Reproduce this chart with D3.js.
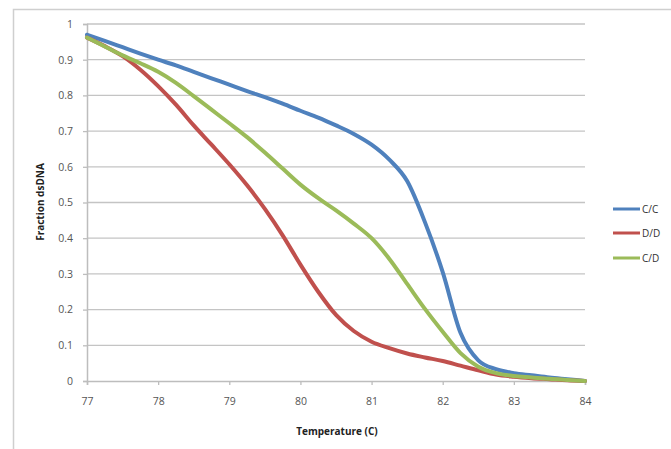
<!DOCTYPE html>
<html>
<head>
<meta charset="utf-8">
<script src="https://cdn.jsdelivr.net/npm/d3@7/dist/d3.min.js"></script>
<style>
  html, body { margin: 0; padding: 0; background: #fff; }
  svg { display: block; }
  text { font-family: "Open Sans", "DejaVu Sans", sans-serif; }
</style>
</head>
<body>
<script>
// ---- data ----
const temperatures = [77.00, 77.25, 77.50, 77.75, 78.00, 78.25, 78.50, 78.75, 79.00, 79.25,
                      79.50, 79.75, 80.00, 80.25, 80.50, 80.75, 81.00, 81.25, 81.50, 81.75,
                      82.00, 82.25, 82.50, 82.75, 83.00, 83.25, 83.50, 83.75, 84.00];
const seriesNames = ["C/C", "D/D", "C/D"];
const ccValues = [0.970, 0.953, 0.935, 0.917, 0.900, 0.884, 0.866, 0.848, 0.830, 0.812,
                  0.795, 0.777, 0.757, 0.738, 0.716, 0.692, 0.662, 0.620, 0.560, 0.445,
                  0.305, 0.135, 0.058, 0.033, 0.022, 0.016, 0.010, 0.005, 0.000];
const ddValues = [0.962, 0.938, 0.910, 0.872, 0.826, 0.774, 0.716, 0.662, 0.607, 0.548,
                  0.482, 0.408, 0.326, 0.250, 0.185, 0.140, 0.110, 0.092, 0.077, 0.066,
                  0.056, 0.043, 0.030, 0.018, 0.012, 0.008, 0.005, 0.002, 0.000];
const cdValues = [0.962, 0.937, 0.912, 0.890, 0.866, 0.835, 0.798, 0.760, 0.722, 0.683,
                  0.640, 0.595, 0.550, 0.512, 0.478, 0.441, 0.400, 0.342, 0.272, 0.202,
                  0.138, 0.078, 0.040, 0.022, 0.014, 0.010, 0.006, 0.003, 0.000];
const xTicks = [77, 78, 79, 80, 81, 82, 83, 84];
const yTicks = [0, 0.1, 0.2, 0.3, 0.4, 0.5, 0.6, 0.7, 0.8, 0.9, 1];
const xTitle = "Temperature (C)";
const yTitle = "Fraction dsDNA";

const colors = ["#4F81BD", "#C0504D", "#9BBB59"];
const seriesValues = [ccValues, ddValues, cdValues];

// ---- layout ----
const W = 671, H = 449;
const plot = { left: 87, right: 585, top: 24, bottom: 381 };

const svg = d3.select("body").append("svg").attr("width", W).attr("height", H);

// outer frame
svg.append("rect").attr("x", 13.5).attr("y", 9.5).attr("width", 800).attr("height", 600)
  .attr("fill", "none").attr("stroke", "#cfcfcf").attr("stroke-width", 1.5);

const x = d3.scaleLinear().domain([77, 84]).range([plot.left, plot.right]);
const y = d3.scaleLinear().domain([0, 1]).range([plot.bottom, plot.top]);

// gridlines
svg.append("g").selectAll("line").data(yTicks.filter(d => d > 0)).join("line")
  .attr("x1", plot.left).attr("x2", plot.right)
  .attr("y1", d => y(d)).attr("y2", d => y(d))
  .attr("stroke", "#c4c4c4").attr("stroke-width", 1.3);

// y axis
const yAxis = svg.append("g").attr("transform", `translate(${plot.left},0)`)
  .call(d3.axisLeft(y).tickValues(yTicks).tickSize(4).tickPadding(10)
    .tickFormat(d => d === 0 ? "0" : d === 1 ? "1" : d3.format(".1f")(d)));
yAxis.select(".domain").attr("stroke", "#bdbdbd").attr("stroke-width", 1.5);
yAxis.selectAll(".tick line").attr("stroke", "#bdbdbd").attr("stroke-width", 1.3);
yAxis.selectAll(".tick text").attr("fill", "#555").attr("font-size", 10.5)
  .attr("font-family", '"Open Sans", sans-serif');

// x axis
const xAxis = svg.append("g").attr("transform", `translate(0,${plot.bottom})`)
  .call(d3.axisBottom(x).tickValues(xTicks).tickSize(4).tickPadding(13).tickFormat(d3.format("d")));
xAxis.select(".domain").attr("stroke", "#bdbdbd").attr("stroke-width", 1.5);
xAxis.selectAll(".tick line").attr("stroke", "#bdbdbd").attr("stroke-width", 1.3);
xAxis.selectAll(".tick text").attr("fill", "#555").attr("font-size", 10.5)
  .attr("font-family", '"Open Sans", sans-serif');

// lines
const line = d3.line()
  .x((d, i) => x(temperatures[i]))
  .y(d => y(d))
  .curve(d3.curveMonotoneX);

svg.append("g").selectAll("path").data(seriesValues).join("path")
  .attr("d", d => line(d))
  .attr("fill", "none")
  .attr("stroke", (d, i) => colors[i])
  .attr("stroke-width", 4)
  .attr("stroke-linejoin", "round")
  .attr("stroke-linecap", "round");

// axis titles
svg.append("text").attr("x", 337).attr("y", 435).attr("text-anchor", "middle")
  .attr("font-size", 10).attr("font-weight", "bold").attr("fill", "#222").text(xTitle);
svg.append("text").attr("transform", "translate(44,202) rotate(-90)").attr("text-anchor", "middle")
  .attr("font-size", 10).attr("font-weight", "bold").attr("fill", "#222").text(yTitle);

// legend
const legendY = [209, 233, 258];
const lg = svg.append("g");
seriesNames.forEach((name, i) => {
  lg.append("line").attr("x1", 613).attr("x2", 640).attr("y1", legendY[i]).attr("y2", legendY[i])
    .attr("stroke", colors[i]).attr("stroke-width", 3);
  lg.append("text").attr("x", 642).attr("y", legendY[i] + 3.5).attr("font-size", 10)
    .attr("fill", "#333").text(name);
});
</script>
</body>
</html>
